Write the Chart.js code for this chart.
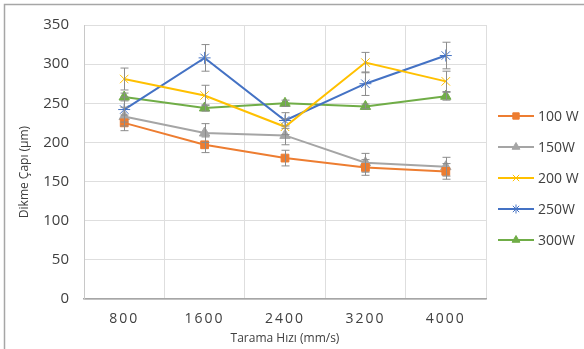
<!DOCTYPE html>
<html>
<head>
    <title>Dikme Çapı</title>
    <script src="https://cdn.jsdelivr.net/npm/chart.js"></script>
    <style>
        body { margin: 0; background: #fff; }
        #wrap { width: 584px; height: 349px; }
    </style>
</head>
<body>
<div id="wrap"><canvas id="grafico" width="584" height="349"></canvas></div>
<script>
    const hizlar = ['800', '1600', '2400', '3200', '4000'];
    const etiketler = ['100 W', '150W', '200 W', '250W', '300W'];
    const w100 = [225, 197, 180, 168, 163];
    const w150 = [233, 212, 209, 174, 169];
    const w200 = [281, 260, 220, 302, 278];
    const w250 = [242, 308, 228, 275, 311];
    const w300 = [258, 244, 250, 246, 259];
    const hata100 = [10, 10, 10, 10, 10];
    const hata150 = [12, 12, 12, 12, 12];
    const hata200 = [14, 13, 10, 13, 13];
    const hata250 = [16, 17, 10, 15, 17];
    const hata300 = [5, 4, 4, 3, 5];
    const yTicks = [0, 50, 100, 150, 200, 250, 300, 350];

    const renkler = ['#ED7D31', '#A5A5A5', '#FFC000', '#4472C4', '#70AD47'];
    const isaretler = ['rect', 'triangle', 'crossRot', 'star', 'triangle'];
    const seriler = [w100, w150, w200, w250, w300];
    const hatalar = [hata100, hata150, hata200, hata250, hata300];
    const yazi = "'Open Sans', sans-serif";

    const datasets = seriler.map((d, i) => ({
        label: etiketler[i],
        data: d,
        hata: hatalar[i],
        borderColor: renkler[i],
        backgroundColor: renkler[i],
        borderWidth: 2,
        pointStyle: isaretler[i],
        pointRadius: isaretler[i] === 'rect' ? 5.5 : 6,
        pointBorderWidth: 1,
        tension: 0
    }));

    // hata çubukları, çerçeve, eksen başlıkları ve açıklama
    const ekler = {
        id: 'ekler',
        beforeDraw(chart) {
            const x = chart.scales.x;
            if (!x._harf) {
                const orig = x.drawLabels;
                x.drawLabels = function (a) {
                    const c = this.ctx;
                    c.save();
                    c.letterSpacing = '2px';
                    orig.call(this, a);
                    c.restore();
                };
                x._harf = true;
            }
        },
        afterDatasetsDraw(chart) {
            const ctx = chart.ctx;
            const xs = chart.scales.x, ys = chart.scales.y;
            ctx.save();
            ctx.strokeStyle = '#8c8c8c';
            ctx.lineWidth = 1;
            chart.data.datasets.forEach(ds => {
                ds.data.forEach((v, j) => {
                    const px = Math.round(xs.getPixelForValue(j)) + 0.5;
                    const top = ys.getPixelForValue(v + ds.hata[j]);
                    const bot = ys.getPixelForValue(v - ds.hata[j]);
                    ctx.beginPath();
                    ctx.moveTo(px, top); ctx.lineTo(px, bot);
                    ctx.moveTo(px - 4, top); ctx.lineTo(px + 4, top);
                    ctx.moveTo(px - 4, bot); ctx.lineTo(px + 4, bot);
                    ctx.stroke();
                });
            });
            ctx.restore();
        },
        afterDraw(chart) {
            const ctx = chart.ctx;
            const area = chart.chartArea;
            ctx.save();
            // dış çerçeve
            ctx.strokeStyle = '#a6a6a6';
            ctx.lineWidth = 1.5;
            ctx.beginPath();
            ctx.moveTo(4.5, 349); ctx.lineTo(4.5, 4.5); ctx.lineTo(584, 4.5);
            ctx.stroke();
            // eksen başlıkları
            ctx.fillStyle = '#404040';
            ctx.font = '12px ' + yazi;
            ctx.textAlign = 'center';
            ctx.textBaseline = 'middle';
            ctx.fillText('Tarama Hızı (mm/s)', (area.left + area.right) / 2, 339);
            ctx.save();
            ctx.translate(25, 172);
            ctx.rotate(-Math.PI / 2);
            ctx.fillText('Dikme Çapı (µm)', 0, 0);
            ctx.restore();
            // açıklama
            ctx.textAlign = 'left';
            chart.data.datasets.forEach((ds, i) => {
                const y = 116 + i * 31;
                ctx.strokeStyle = ds.borderColor;
                ctx.lineWidth = 2;
                ctx.beginPath();
                ctx.moveTo(498, y); ctx.lineTo(534, y);
                ctx.stroke();
                ctx.fillStyle = ds.backgroundColor;
                ctx.lineWidth = 1;
                Chart.helpers.drawPoint(ctx, {
                    pointStyle: ds.pointStyle,
                    radius: 4.5,
                    borderWidth: 1,
                    rotation: 0
                }, 516, y);
                ctx.fillStyle = '#404040';
                ctx.font = '14px ' + yazi;
                ctx.fillText(ds.label, 538, y + 1);
            });
            ctx.restore();
        }
    };

    new Chart(document.getElementById('grafico').getContext('2d'), {
        type: 'line',
        data: { labels: hizlar, datasets: datasets },
        options: {
            responsive: false,
            animation: false,
            layout: { padding: { left: 0, right: 98, top: 25, bottom: 0 } },
            plugins: {
                legend: { display: false },
                tooltip: { enabled: false }
            },
            scales: {
                x: {
                    offset: true,
                    grid: { offset: true, color: '#dedede', drawTicks: false },
                    border: { color: '#a6a6a6', width: 1.5 },
                    ticks: { color: '#404040', font: { family: yazi, size: 14 }, padding: 12 },
                    afterFit(s) { s.height = 50; }
                },
                y: {
                    min: 0, max: 350,
                    afterBuildTicks(s) { s.ticks = yTicks.map(v => ({ value: v })); },
                    grid: { color: '#dedede', drawTicks: false },
                    border: { color: '#c8c8c8', width: 1 },
                    ticks: { color: '#404040', font: { family: yazi, size: 15 }, padding: 15 },
                    afterFit(s) { s.width = 84; }
                }
            }
        },
        plugins: [ekler]
    });
</script>
</body>
</html>
